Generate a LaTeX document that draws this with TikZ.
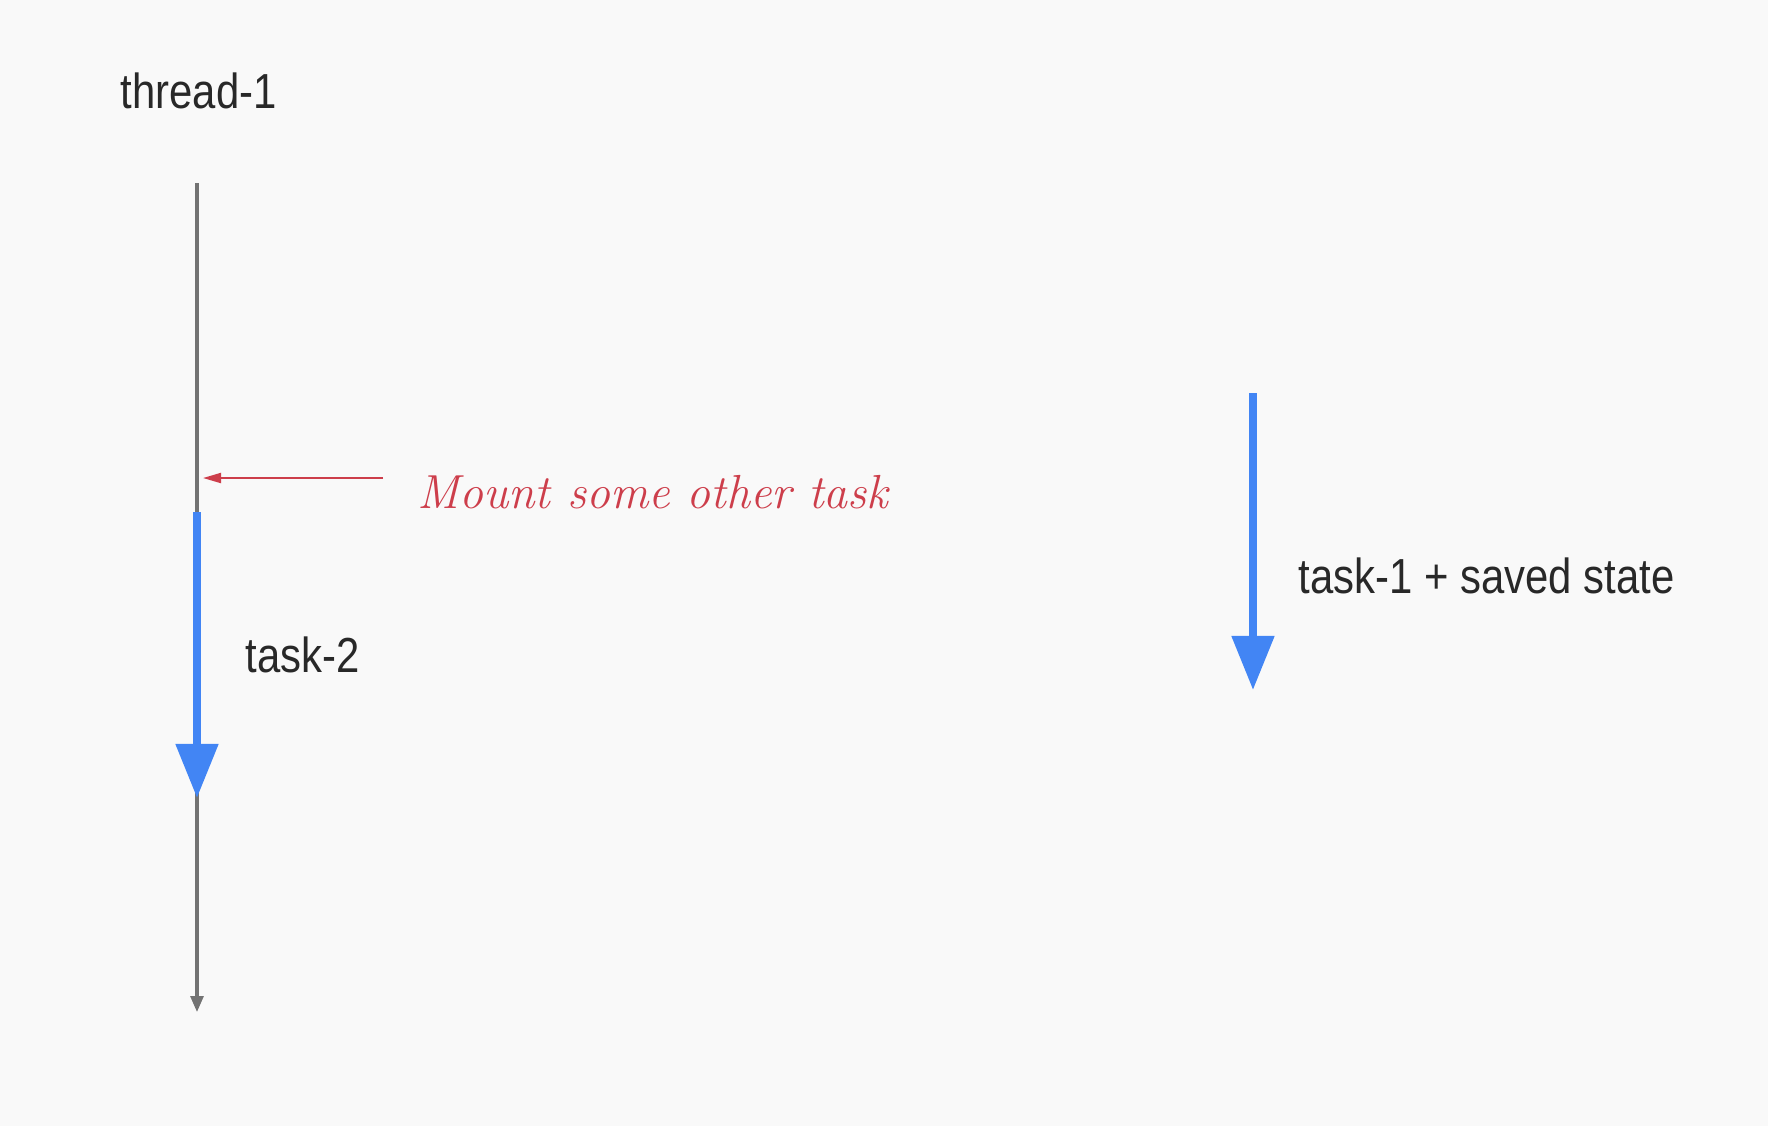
\documentclass[tikz,border=0pt]{standalone}
\usepackage{fontspec}
\setsansfont{Liberation Sans}[FakeStretch=0.85]
\usetikzlibrary{arrows.meta}
\definecolor{bgGray}{RGB}{249,249,249}
\definecolor{lineGray}{RGB}{115,115,115}
\definecolor{taskBlue}{RGB}{66,133,244}
\definecolor{noteRed}{RGB}{205,62,75}
\definecolor{txtGray}{RGB}{40,40,40}
\tikzset{
 txt/.style = {font=\sffamily\fontsize{14}{16}\selectfont, text=txtGray, anchor=base west, inner sep=0pt},
 note/.style = {font=\itshape\fontsize{13.6}{16}\selectfont, text=noteRed, anchor=base west, inner sep=0pt},
 timeline/.style = {draw=lineGray, line width=0.03cm, -{Triangle[width=0.13cm,length=0.16cm]}},
 taskline/.style = {draw=taskBlue, line width=0.08cm, -{Triangle[width=0.41cm,length=0.54cm]}},
 noteline/.style = {draw=noteRed, line width=0.02cm, -{Triangle[width=0.1cm,length=0.18cm]}}
}
\newcommand{\taskArrow}[2]{
    \draw[taskline] (#1) -- (#2);
}

\begin{document}
\begin{tikzpicture}[x=0.01cm, y=-0.01cm]
    \fill[bgGray] (0,0) rectangle (1768,1126);
    \useasboundingbox (0,0) rectangle (1768,1126);

    \coordinate (thr_a) at (197,183);
    \coordinate (thr_b) at (197,1012);
    \coordinate (t2_a) at (197,512);
    \coordinate (t2_b) at (197,798);
    \coordinate (t1_a) at (1253,393);
    \coordinate (t1_b) at (1253,690);
    \coordinate (mnt_a) at (383,478);
    \coordinate (mnt_b) at (203,478);

    \node[txt] (thr) at (120,108) {thread-1};
    \node[txt] (t2) at (245,672) {task-2};
    \node[txt] (t1) at (1298,593) {task-1 + saved state};
    \node[note] (mnt) at (417,508) {Mount some other task};

    \draw[timeline] (thr_a) -- (thr_b);
    \taskArrow{t2_a}{t2_b}
    \taskArrow{t1_a}{t1_b}
    \draw[noteline] (mnt_a) -- (mnt_b);
\end{tikzpicture}
\end{document}
